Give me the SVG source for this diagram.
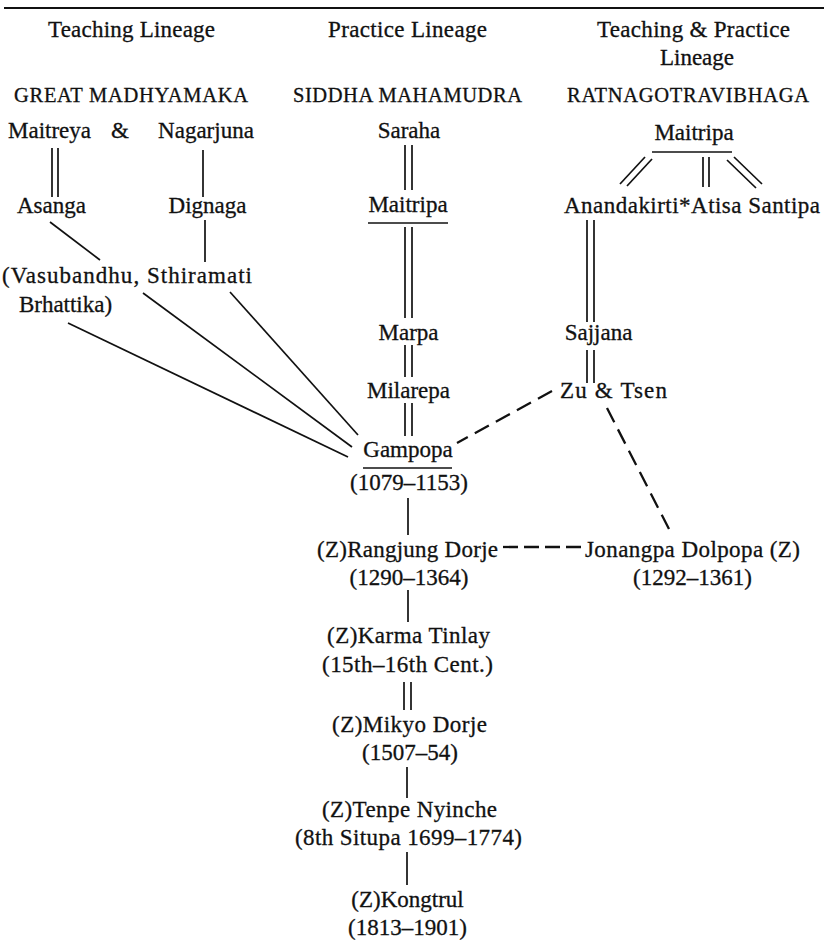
<svg xmlns="http://www.w3.org/2000/svg" width="824" height="943" viewBox="0 0 824 943">
<style>
text{font-family:"Liberation Serif","Times New Roman",serif;font-size:23px;fill:#111;stroke:#111;stroke-width:0.3;text-anchor:middle}
.cap{font-size:20.5px}
line,path{stroke:#111;stroke-width:1.7;fill:none}
.d{stroke-width:2.3;stroke-dasharray:16 8}
</style>
<rect width="824" height="943" fill="#fff"/>
<line x1="4" y1="8" x2="824" y2="8" style="stroke-width:1.8"/>
<g id="headers">
<text x="131.5" y="37" textLength="167">Teaching Lineage</text>
<text x="407.5" y="37" textLength="159">Practice Lineage</text>
<text x="693.5" y="37" textLength="193">Teaching &amp; Practice</text>
<text x="697" y="65">Lineage</text>
<text class="cap" x="131" y="102" textLength="234">GREAT MADHYAMAKA</text>
<text class="cap" x="407.5" y="102" textLength="229">SIDDHA MAHAMUDRA</text>
<text class="cap" x="688" y="102" textLength="242">RATNAGOTRAVIBHAGA</text>
</g>
<g id="maitreya"><text x="49.5" y="138">Maitreya</text></g>
<g id="amp"><text x="120" y="138">&amp;</text></g>
<g id="nagarjuna"><text x="206" y="138">Nagarjuna</text></g>
<g id="saraha"><text x="409" y="138">Saraha</text></g>
<g id="maitripa-r"><text x="694" y="140">Maitripa</text></g>
<g id="asanga"><text x="51.5" y="213">Asanga</text></g>
<g id="dignaga"><text x="207.5" y="213">Dignaga</text></g>
<g id="maitripa-m"><text x="408" y="212">Maitripa</text></g>
<g id="anandakirti"><text x="564" y="213" style="text-anchor:start" textLength="256">Anandakirti*Atisa  Santipa</text></g>
<g id="vasubandhu">
<text x="2" y="283" style="text-anchor:start" textLength="250">(Vasubandhu, Sthiramati</text>
<text x="65.5" y="312">Brhattika)</text>
</g>
<g id="marpa"><text x="408.5" y="340">Marpa</text></g>
<g id="sajjana"><text x="598.5" y="340">Sajjana</text></g>
<g id="milarepa"><text x="408.5" y="398">Milarepa</text></g>
<g id="zutsen"><text x="613.5" y="398" textLength="107">Zu &amp; Tsen</text></g>
<g id="gampopa">
<text x="408" y="457">Gampopa</text>
<text x="409" y="490">(1079–1153)</text>
</g>
<g id="rangjung">
<text x="407.5" y="557" textLength="181">(Z)Rangjung Dorje</text>
<text x="409" y="585">(1290–1364)</text>
</g>
<g id="jonangpa">
<text x="692.5" y="557" textLength="215">Jonangpa Dolpopa (Z)</text>
<text x="692.5" y="585">(1292–1361)</text>
</g>
<g id="karma">
<text x="408.5" y="643" textLength="163">(Z)Karma Tinlay</text>
<text x="407.5" y="672" textLength="171">(15th–16th Cent.)</text>
</g>
<g id="mikyo">
<text x="409.5" y="732" textLength="155">(Z)Mikyo Dorje</text>
<text x="410" y="760">(1507–54)</text>
</g>
<g id="tenpe">
<text x="409.5" y="817" textLength="175">(Z)Tenpe Nyinche</text>
<text x="408.5" y="845" textLength="227">(8th Situpa 1699–1774)</text>
</g>
<g id="kongtrul">
<text x="407.5" y="907">(Z)Kongtrul</text>
<text x="407.5" y="935">(1813–1901)</text>
</g>
<g id="connectors">
<line x1="52" y1="148" x2="52" y2="197"/><line x1="58" y1="148" x2="58" y2="197"/>
<line x1="203" y1="150" x2="203" y2="197"/>
<line x1="50" y1="222" x2="100" y2="260"/>
<line x1="205" y1="220" x2="205" y2="262"/>
<line x1="68" y1="323" x2="348" y2="457"/>
<line x1="143" y1="293" x2="352" y2="447"/>
<line x1="230" y1="292" x2="358" y2="435"/>
<line x1="405" y1="145" x2="405" y2="190"/><line x1="412" y1="145" x2="412" y2="190"/>
<line x1="368" y1="223" x2="448" y2="223"/>
<line x1="405" y1="227" x2="405" y2="318"/><line x1="412" y1="227" x2="412" y2="318"/>
<line x1="405" y1="345" x2="405" y2="377"/><line x1="412" y1="345" x2="412" y2="377"/>
<line x1="405" y1="403" x2="405" y2="436"/><line x1="412" y1="403" x2="412" y2="436"/>
<line x1="652" y1="152" x2="732" y2="152"/>
<line x1="645" y1="157" x2="620" y2="184"/><line x1="652" y1="159" x2="627" y2="186"/>
<line x1="703" y1="157" x2="703" y2="187"/><line x1="709" y1="157" x2="709" y2="187"/>
<line x1="727" y1="160" x2="756" y2="188"/><line x1="734" y1="157" x2="762" y2="184"/>
<line x1="587" y1="220" x2="587" y2="322"/><line x1="594" y1="220" x2="594" y2="322"/>
<line x1="587" y1="350" x2="587" y2="383"/><line x1="594" y1="350" x2="594" y2="383"/>
<line class="d" x1="552" y1="391" x2="457" y2="443"/>
<line class="d" x1="607" y1="408" x2="670" y2="531"/>
<line x1="363" y1="468" x2="452" y2="468"/>
<line x1="408" y1="498" x2="408" y2="535"/>
<line class="d" x1="503" y1="547" x2="585" y2="547" style="stroke-dasharray:15 6"/>
<line x1="408" y1="590" x2="408" y2="622"/>
<line x1="404" y1="682" x2="404" y2="710"/><line x1="411" y1="682" x2="411" y2="710"/>
<line x1="407" y1="767" x2="407" y2="798"/>
<line x1="407" y1="852" x2="407" y2="885"/>
</g>
</svg>
